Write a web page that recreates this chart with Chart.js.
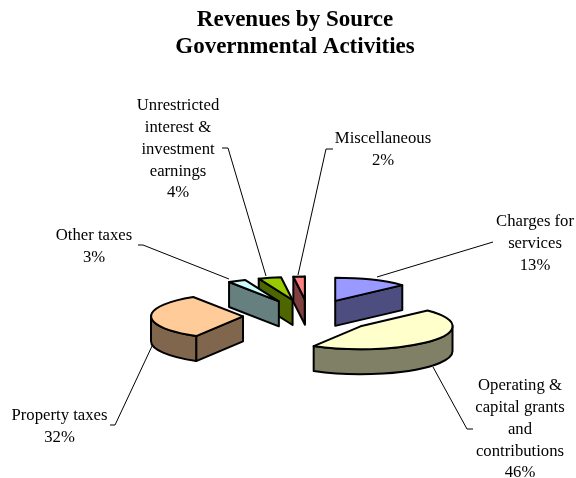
<!DOCTYPE html>
<html>
<head>
<meta charset="utf-8">
<title>Revenues by Source</title>
<style>
  html, body { margin: 0; padding: 0; background: #fff; }
  canvas { display: block; }
</style>
<script src="https://cdn.jsdelivr.net/npm/chart.js@4"></script>
</head>
<body>
<canvas id="chart" width="576" height="478"></canvas>
<script>
const categories = ['Charges for services', 'Operating & capital grants and contributions', 'Property taxes', 'Other taxes', 'Unrestricted interest & investment earnings', 'Miscellaneous'];
const shares = [13, 45.5, 32.4, 3.1, 4, 2];
const topColors = ['#9999FF', '#FFFFCC', '#FFCC99', '#CCFFFF', '#99CC00', '#FF8080'];
const wallColors = ['#4D4D80', '#808066', '#80664D', '#668080', '#4D6600', '#804040'];

// how each category name wraps, and where its label sits (centre x, first line y)
const labelLines = [['Charges for', 'services'], ['Operating &', 'capital grants', 'and', 'contributions'], ['Property taxes'], ['Other taxes'], ['Unrestricted', 'interest &', 'investment', 'earnings'], ['Miscellaneous']];
const labelSpots = [[535, 222], [520, 386], [59.5, 416], [94, 236], [178, 106], [383, 139]];
const leaders = [
    [[493, 242], [377, 277]],
    [[473, 429], [467, 429], [433, 367]],
    [[110, 425], [115, 425], [153, 344]],
    [[138, 245], [143, 245], [229, 279]],
    [[222, 148], [228, 148], [266, 276]],
    [[333, 149], [326, 149], [298, 275]]
];

const pie = { x: 309, y: 316, tilt: 0.25, depth: 25, explode: 66 };

// pie is flattened and pulled apart here, the angles and radius come from the arc elements
const tiltedPie = {
    id: 'tiltedPie',
    beforeDatasetsDraw(chart) {
        const ctx = chart.ctx;
        const arcs = chart.getDatasetMeta(0).data;

        ctx.save();
        ctx.strokeStyle = '#000';
        ctx.lineWidth = 1;
        leaders.forEach(points => {
            ctx.beginPath();
            points.forEach((p, i) => i ? ctx.lineTo(p[0], p[1]) : ctx.moveTo(p[0], p[1]));
            ctx.stroke();
        });

        const slices = arcs.map((arc, i) => {
            const mid = (arc.startAngle + arc.endAngle) / 2;
            return {
                i: i,
                a0: arc.startAngle,
                a1: arc.endAngle,
                rx: arc.outerRadius,
                ry: arc.outerRadius * pie.tilt,
                x: pie.x + pie.explode * Math.cos(mid),
                y: pie.y + pie.explode * pie.tilt * Math.sin(mid)
            };
        });
        slices.sort((a, b) => a.y - b.y);

        ctx.lineWidth = 2;
        ctx.lineJoin = 'round';
        slices.forEach(s => {
            const edge = a => [s.x + s.rx * Math.cos(a), s.y + s.ry * Math.sin(a)];
            const wall = a => {
                const e = edge(a);
                ctx.beginPath();
                ctx.moveTo(s.x, s.y);
                ctx.lineTo(e[0], e[1]);
                ctx.lineTo(e[0], e[1] + pie.depth);
                ctx.lineTo(s.x, s.y + pie.depth);
                ctx.closePath();
                ctx.fillStyle = wallColors[s.i];
                ctx.fill();
                ctx.stroke();
            };
            if (Math.cos(s.a0) < 0) wall(s.a0);
            if (Math.cos(s.a1) > 0) wall(s.a1);

            // round outer side, only the part turned toward the viewer
            const from = Math.max(s.a0, 0);
            const to = Math.min(s.a1, Math.PI);
            if (to > from) {
                ctx.beginPath();
                ctx.ellipse(s.x, s.y, s.rx, s.ry, 0, from, to);
                ctx.ellipse(s.x, s.y + pie.depth, s.rx, s.ry, 0, to, from, true);
                ctx.closePath();
                ctx.fillStyle = wallColors[s.i];
                ctx.fill();
                ctx.stroke();
            }

            ctx.beginPath();
            ctx.moveTo(s.x, s.y);
            ctx.ellipse(s.x, s.y, s.rx, s.ry, 0, s.a0, s.a1);
            ctx.closePath();
            ctx.fillStyle = topColors[s.i];
            ctx.fill();
            ctx.stroke();
        });

        ctx.fillStyle = '#000';
        ctx.font = '16.7px "Liberation Serif"';
        ctx.textAlign = 'center';
        ctx.textBaseline = 'middle';
        labelLines.forEach((lines, i) => {
            const all = lines.concat(Math.round(shares[i]) + '%');
            all.forEach((line, n) => ctx.fillText(line, labelSpots[i][0], labelSpots[i][1] + n * 21.75));
        });
        ctx.restore();
        return false;
    }
};

new Chart(document.getElementById('chart'), {
    type: 'pie',
    data: {
        labels: categories,
        datasets: [{ data: shares, backgroundColor: topColors, borderWidth: 0 }]
    },
    options: {
        responsive: false,
        animation: false,
        radius: 92,
        layout: { padding: { left: 14, top: 7 } },
        plugins: {
            legend: { display: false },
            tooltip: { enabled: false },
            title: {
                display: true,
                text: ['Revenues by Source', 'Governmental Activities'],
                color: '#000',
                font: { family: '"Liberation Serif"', size: 23, weight: 'bold', lineHeight: 1.17 },
                padding: 0
            }
        }
    },
    plugins: [tiltedPie]
});
</script>
</body>
</html>
